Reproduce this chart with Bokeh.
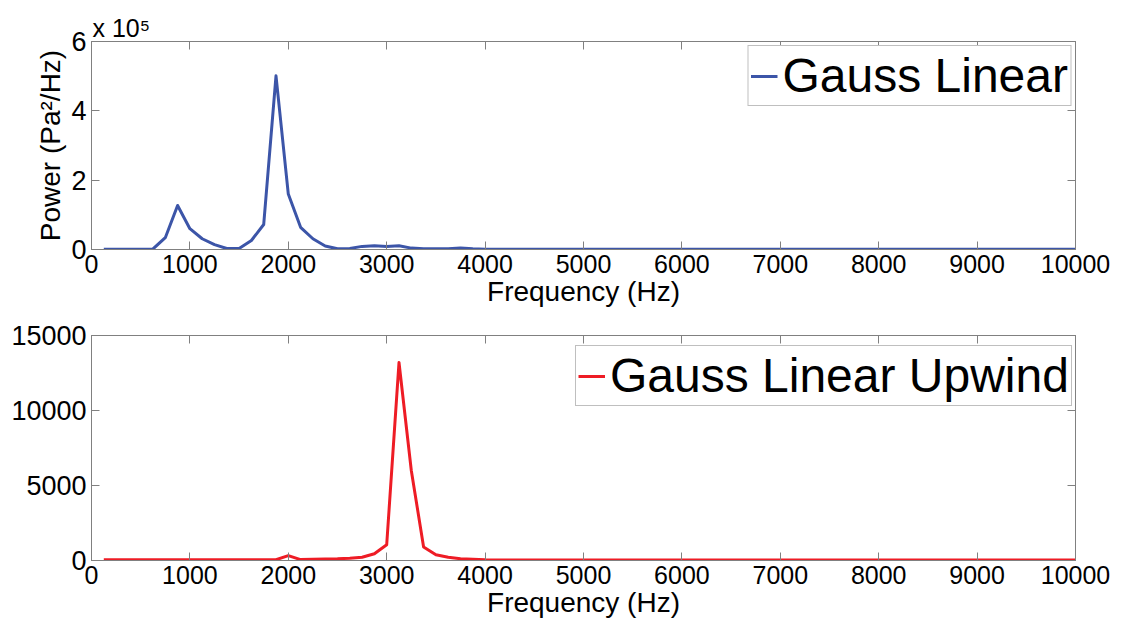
from bokeh.plotting import figure
from bokeh.models import (Range1d, FixedTicker, LinearAxis, Legend, LegendItem, Title,
                          CustomJSTickFormatter, BasicTickFormatter)
from bokeh.layouts import column
from bokeh.embed import file_html
from bokeh.resources import INLINE

# ---------------- data ----------------
freq_hz = [125, 250, 375, 500, 625, 750, 875, 1000, 1125, 1250, 1375, 1500, 1625, 1750,
           1875, 2000, 2125, 2250, 2375, 2500, 2625, 2750, 2875, 3000, 3125, 3250, 3375,
           3500, 3625, 3750, 3875, 4000, 4125, 10000]

gauss_linear = [1000, 1000, 1000, 1000, 1500, 34000, 127000, 60000, 31000, 14000, 3000,
                3000, 26000, 72000, 501000, 160000, 64000, 31000, 10000, 2000, 3000, 9000,
                11000, 9000, 11000, 4000, 2000, 2000, 2000, 4500, 2000, 1000, 1000, 1000]

gauss_linear_upwind = [50, 50, 50, 50, 50, 50, 50, 50, 50, 50, 50, 50, 50, 50,
                       50, 330, 60, 80, 100, 110, 150, 220, 450, 1050, 13200, 6000, 900,
                       380, 220, 120, 80, 50, 40, 30]

x_ticks = [0, 1000, 2000, 3000, 4000, 5000, 6000, 7000, 8000, 9000, 10000]
top_y_ticks = [0, 200000, 400000, 600000]
bottom_y_ticks = [0, 5000, 10000, 15000]

series_top_label = "Gauss Linear"
series_bottom_label = "Gauss Linear Upwind"
x_label = "Frequency (Hz)"
y_label_top = "Power (Pa\u00b2/Hz)"
exponent_text = "x 10\u2075"

# ---------------- style ----------------
FONT = "Liberation Sans"
GRAY = "#808080"
BLUE = "#3c55a8"
RED = "#ee1c25"
XTICK_FS = "25px"
YTICK_FS = "27px"
LABEL_FS = "28px"


def style_axis(ax, tick_fs=None):
    ax.axis_line_color = GRAY
    ax.major_tick_line_color = GRAY
    ax.major_tick_in = 8
    ax.major_tick_out = 0
    ax.minor_tick_line_color = None
    ax.major_label_text_font = FONT
    ax.major_label_text_color = "black"
    ax.axis_label_text_font = FONT
    ax.axis_label_text_font_style = "normal"
    ax.axis_label_text_font_size = LABEL_FS
    ax.axis_label_text_color = "black"
    ax.axis_label_standoff = 0
    if tick_fs is not None:
        ax.major_label_text_font_size = tick_fs
        ax.major_label_standoff = 5
    else:
        ax.major_label_text_font_size = "1px"
        ax.major_label_text_alpha = 0
        ax.major_label_standoff = 0


def make_fig(height, top, bottom, y_end, y_ticks, y_formatter):
    p = figure(width=1132, height=height, title=None,
               x_range=Range1d(0, 10000), y_range=Range1d(0, y_end),
               output_backend="svg", toolbar_location=None,
               min_border_left=91, min_border_right=57,
               min_border_top=top, min_border_bottom=bottom)
    p.grid.visible = False
    p.outline_line_color = GRAY
    p.outline_line_width = 1
    p.background_fill_color = "white"
    p.border_fill_color = "white"
    p.xaxis.ticker = FixedTicker(ticks=x_ticks)
    p.yaxis.ticker = FixedTicker(ticks=y_ticks)
    p.yaxis.formatter = y_formatter
    p.xaxis.formatter = BasicTickFormatter(use_scientific=False)
    p.xaxis.axis_label = x_label
    for ax in p.xaxis:
        style_axis(ax, XTICK_FS)
    for ax in p.yaxis:
        style_axis(ax, YTICK_FS)
    top_ax = LinearAxis(ticker=FixedTicker(ticks=x_ticks))
    right_ax = LinearAxis(ticker=FixedTicker(ticks=y_ticks))
    style_axis(top_ax)
    style_axis(right_ax)
    p.add_layout(top_ax, "above")
    p.add_layout(right_ax, "right")
    return p


def make_legend(label, renderer, location):
    return Legend(items=[LegendItem(label=label, renderers=[renderer])],
                  location=location, margin=4, padding=2, spacing=0,
                  glyph_width=27, glyph_height=20, label_standoff=5,
                  label_text_font=FONT, label_text_font_size="48px",
                  label_text_color="black",
                  border_line_color=GRAY, border_line_width=1,
                  background_fill_color="white", background_fill_alpha=1)


# ---------------- top panel ----------------
p1 = make_fig(313, 41, 64, 600000, top_y_ticks,
              CustomJSTickFormatter(code="return (tick / 1e5).toFixed(0);"))
p1.yaxis[0].axis_label = y_label_top
p1.yaxis[0].axis_label_standoff = 2
r1 = p1.line(freq_hz, gauss_linear, line_width=3, line_color=BLUE, line_join="round")
p1.add_layout(make_legend(series_top_label, r1, "top_right"))
p1.add_layout(Title(text=exponent_text, align="left", offset=1, standoff=0,
                    text_font=FONT, text_font_size="25px", text_font_style="normal",
                    text_color="black"), "above")

# ---------------- bottom panel ----------------
p2 = make_fig(313, 22, 66, 15000, bottom_y_ticks,
              BasicTickFormatter(use_scientific=False))
r2 = p2.line(freq_hz, gauss_linear_upwind, line_width=3, line_color=RED, line_join="round")
p2.add_layout(make_legend(series_bottom_label, r2, (484, 154)))

layout = column(p1, p2, spacing=0)

open("out.html", "w").write(file_html(layout, INLINE))
